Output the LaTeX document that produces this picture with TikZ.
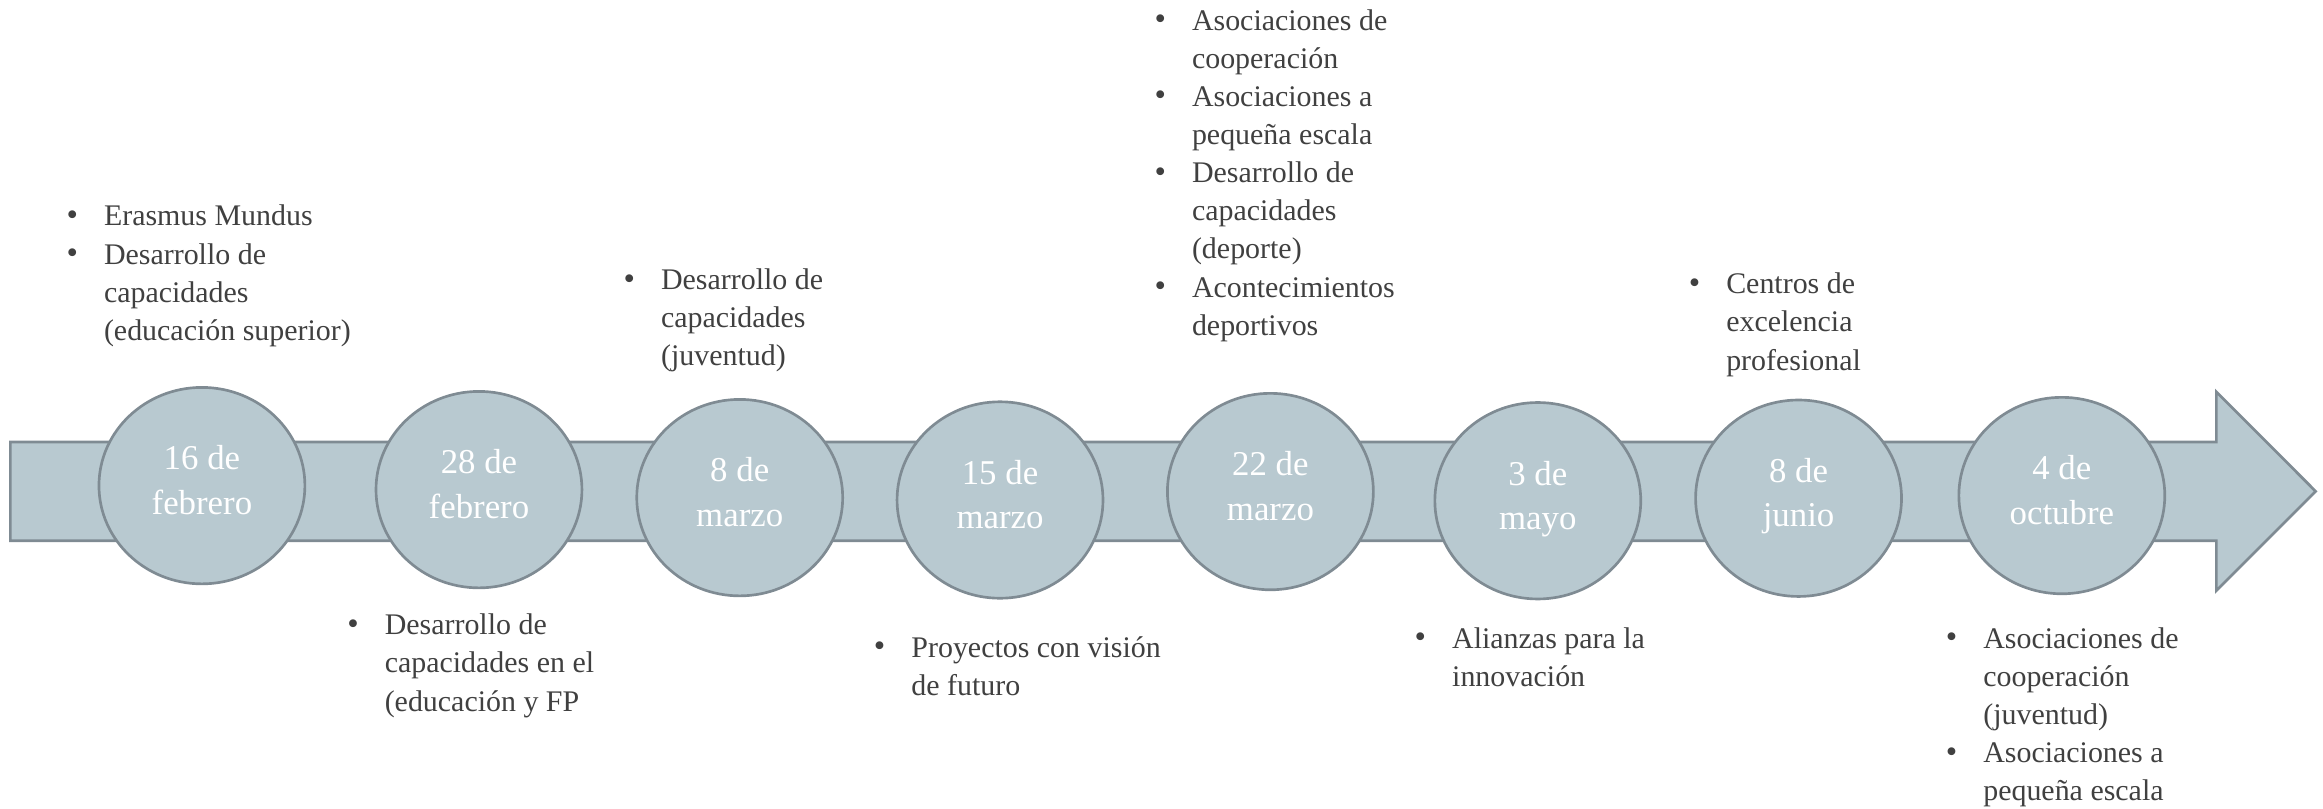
\documentclass[tikz,border=0pt]{standalone}
\usepackage{fontspec}
\setmainfont{Liberation Serif}
\usetikzlibrary{shapes.geometric}
\definecolor{fillc}{HTML}{B8C9D0}
\definecolor{linec}{HTML}{7F8B93}
\definecolor{txtc}{HTML}{404040}
\newcommand{\bul}{\llap{\raisebox{0.3bp}{\fontsize{22bp}{22bp}\selectfont\textbullet}\hspace{17.6bp}}}
\tikzset{
  arrowbody/.style={draw=linec, fill=fillc, line width=1.8bp, line join=miter},
  datebubble/.style={ellipse, draw=linec, fill=fillc, line width=1.8bp,
    minimum width=139bp, minimum height=132.6bp, inner sep=0pt},
  datetext/.style={anchor=base, align=center, text=white, inner sep=0pt,
    font=\fontsize{23.5bp}{29.8bp}\selectfont},
  itemtext/.style={anchor=base west, align=left, text=txtc, inner sep=0pt,
    font=\fontsize{20.2bp}{25.75bp}\selectfont},
}
\begin{document}
\begin{tikzpicture}[x=1bp,y=-1bp]
\useasboundingbox (0,0) rectangle (1568,545.4);
% arrow
\draw[arrowbody] (7,298.3) -- (1496,298.3) -- (1496,264.5) -- (1563,331.6)
  -- (1496,398.7) -- (1496,365) -- (7,365) -- cycle;
% bubbles
\node[datebubble] (e1) at (136.3,327.8) {};
\node[datebubble] (e2) at (323.3,330.5) {};
\node[datebubble] (e3) at (499.3,335.9) {};
\node[datebubble] (e4) at (675,337.5) {};
\node[datebubble] (e5) at (857.5,331.8) {};
\node[datebubble] (e6) at (1038,338) {};
\node[datebubble] (e7) at (1214,336.3) {};
\node[datebubble] (e8) at (1391.7,334.5) {};
% dates (anchor = baseline of the last line)
\node[datetext] (d1) at (136.3,347.0) {16 de\\febrero};
\node[datetext] (d2) at (323.3,349.7) {28 de\\febrero};
\node[datetext] (d3) at (499.3,355.1) {8 de\\marzo};
\node[datetext] (d4) at (675,356.7) {15 de\\marzo};
\node[datetext] (d5) at (857.5,351.0) {22 de\\marzo};
\node[datetext] (d6) at (1038,357.2) {3 de\\mayo};
\node[datetext] (d7) at (1214,355.5) {8 de\\junio};
\node[datetext] (d8) at (1391.7,353.7) {4 de\\octubre};
% item lists (anchor = baseline of the last line)
\node[itemtext] (tA) at (70,229.75) {\bul Erasmus Mundus\\\bul Desarrollo de\\capacidades\\(educación superior)};
\node[itemtext] (tB) at (259.5,480) {\bul Desarrollo de\\capacidades en el\\(educación y FP};
\node[itemtext] (tC) at (446,247) {\bul Desarrollo de\\capacidades\\(juventud)};
\node[itemtext] (tD) at (615,469.25) {\bul Proyectos con visión\\de futuro};
\node[itemtext] (tE) at (804.4,226.3) {\bul Asociaciones de\\cooperación\\\bul Asociaciones a\\pequeña escala\\\bul Desarrollo de\\capacidades\\(deporte)\\\bul Acontecimientos\\deportivos};
\node[itemtext] (tF) at (980,463.25) {\bul Alianzas para la\\innovación};
\node[itemtext] (tG) at (1165,249.8) {\bul Centros de\\excelencia\\profesional};
\node[itemtext] (tH) at (1338.5,540.6) {\bul Asociaciones de\\cooperación\\(juventud)\\\bul Asociaciones a\\pequeña escala};
\end{tikzpicture}
\end{document}
